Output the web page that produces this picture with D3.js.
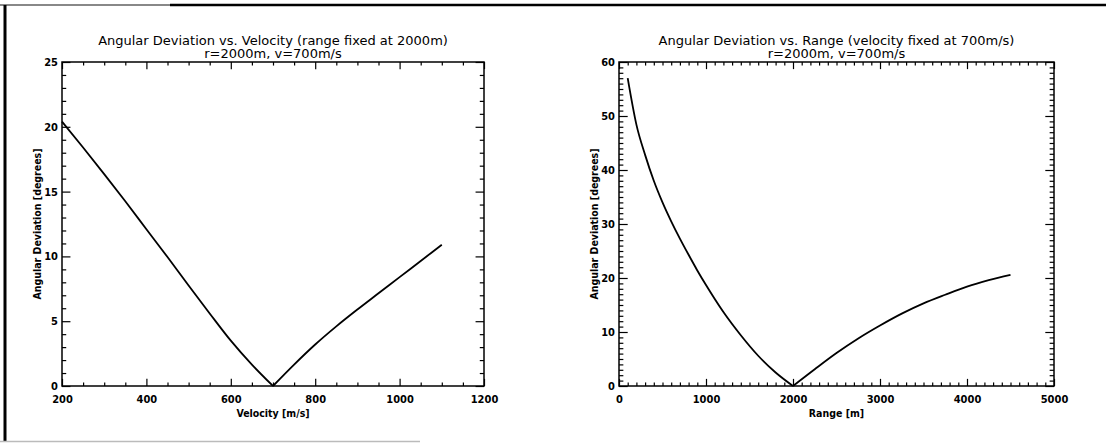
<!DOCTYPE html>
<html>
<head>
<meta charset="utf-8">
<script src="https://cdn.jsdelivr.net/npm/d3@7"></script>
<style>
  body { margin: 0; background: #fff; }
  svg text { font-family: "DejaVu Sans Condensed", "DejaVu Sans", sans-serif; fill: #000; }
</style>
</head>
<body>
<svg id="chart" width="1106" height="444"></svg>
<script>
// Angular deviation as a function of projectile velocity (range held at 2000 m)
const velocity      = [200, 250, 300, 350, 400, 450, 500, 550, 600, 650, 700,
                       750, 800, 850, 900, 950, 1000, 1050, 1100];
const devVsVelocity = [20.4, 18.4, 16.35, 14.25, 12.1, 9.95, 7.75, 5.6, 3.5, 1.65, 0,
                       1.65, 3.2, 4.6, 5.9, 7.15, 8.4, 9.65, 10.9];
const velocityTicks = [200, 400, 600, 800, 1000, 1200];
const velDegTicks   = [0, 5, 10, 15, 20, 25];

// Angular deviation as a function of range (velocity held at 700 m/s)
const range         = [100, 200, 300, 400, 500, 600, 700, 800, 900, 1000, 1200, 1400,
                       1600, 1800, 2000, 2250, 2500, 2750, 3000, 3250, 3500, 3750,
                       4000, 4250, 4500];
const devVsRange    = [57.0, 48.4, 42.8, 38.0, 34.0, 30.5, 27.3, 24.3, 21.4, 18.7, 13.7, 9.4,
                       5.6, 2.5, 0, 3.1, 6.1, 8.8, 11.2, 13.4, 15.3, 16.9,
                       18.4, 19.6, 20.6];
const rangeTicks    = [0, 1000, 2000, 3000, 4000, 5000];
const rangeDegTicks = [0, 10, 20, 30, 40, 50, 60];

const svg = d3.select("#chart");

// outer frame
svg.append("line").attr("x1", 0).attr("x2", 170).attr("y1", 5).attr("y2", 5)
  .attr("stroke", "#888").attr("stroke-width", 2);
svg.append("line").attr("x1", 170).attr("x2", 1106).attr("y1", 5).attr("y2", 5)
  .attr("stroke", "#000").attr("stroke-width", 2.5);
svg.append("line").attr("x1", 5).attr("x2", 5).attr("y1", 5).attr("y2", 442)
  .attr("stroke", "#000").attr("stroke-width", 3);
svg.append("line").attr("x1", 0).attr("x2", 420).attr("y1", 441.5).attr("y2", 441.5)
  .attr("stroke", "#bbb").attr("stroke-width", 1.5);

function minorValues(domain, step, major) {
  return d3.range(domain[0], domain[1] + step / 2, step)
    .filter(v => !major.some(m => Math.abs(m - v) < step / 10));
}

function panel(cfg) {
  const g = svg.append("g");
  const x = d3.scaleLinear().domain(cfg.xDomain).range([cfg.left, cfg.right]);
  const y = d3.scaleLinear().domain(cfg.yDomain).range([cfg.bottom, cfg.top]);
  const w = cfg.right - cfg.left, h = cfg.bottom - cfg.top;
  const xLen = 0.022 * h, yLen = 0.02 * w;

  const xMinor = minorValues(cfg.xDomain, cfg.xMinorStep, cfg.xTicks);
  const yMinor = minorValues(cfg.yDomain, cfg.yMinorStep, cfg.yTicks);

  const style = sel => {
    sel.select(".domain").remove();
    sel.selectAll(".tick line").attr("stroke", "#000").attr("stroke-width", 1.2);
  };

  // bottom axis with labels
  g.append("g").attr("transform", `translate(0,${cfg.bottom})`)
    .call(d3.axisBottom(x).tickValues(cfg.xTicks).tickSize(-xLen).tickPadding(9).tickFormat(d3.format("d")))
    .call(style)
    .selectAll("text").attr("font-size", 11).attr("font-weight", "bold");
  g.append("g").attr("transform", `translate(0,${cfg.bottom})`)
    .call(d3.axisBottom(x).tickValues(xMinor).tickSize(-xLen / 2).tickFormat(""))
    .call(style);
  // top axis, ticks only
  g.append("g").attr("transform", `translate(0,${cfg.top})`)
    .call(d3.axisTop(x).tickValues(cfg.xTicks).tickSize(-xLen).tickFormat(""))
    .call(style);
  g.append("g").attr("transform", `translate(0,${cfg.top})`)
    .call(d3.axisTop(x).tickValues(xMinor).tickSize(-xLen / 2).tickFormat(""))
    .call(style);
  // left axis with labels
  g.append("g").attr("transform", `translate(${cfg.left},0)`)
    .call(d3.axisLeft(y).tickValues(cfg.yTicks).tickSize(-yLen).tickPadding(4).tickFormat(d3.format("d")))
    .call(style)
    .selectAll("text").attr("font-size", 11).attr("font-weight", "bold");
  g.append("g").attr("transform", `translate(${cfg.left},0)`)
    .call(d3.axisLeft(y).tickValues(yMinor).tickSize(-yLen / 2).tickFormat(""))
    .call(style);
  // right axis, ticks only
  g.append("g").attr("transform", `translate(${cfg.right},0)`)
    .call(d3.axisRight(y).tickValues(cfg.yTicks).tickSize(-yLen).tickFormat(""))
    .call(style);
  g.append("g").attr("transform", `translate(${cfg.right},0)`)
    .call(d3.axisRight(y).tickValues(yMinor).tickSize(-yLen / 2).tickFormat(""))
    .call(style);

  // plot box
  g.append("rect").attr("x", cfg.left).attr("y", cfg.top).attr("width", w).attr("height", h)
    .attr("fill", "none").attr("stroke", "#000").attr("stroke-width", 1.5);

  // curve: two branches meeting at the minimum, each drawn smooth
  const pts = cfg.xs.map((v, i) => [v, cfg.ys[i]]);
  const iMin = d3.minIndex(cfg.ys);
  const line = d3.line().x(d => x(d[0])).y(d => y(d[1])).curve(d3.curveMonotoneX);
  [pts.slice(0, iMin + 1), pts.slice(iMin)].forEach(branch => {
    g.append("path").attr("d", line(branch))
      .attr("fill", "none").attr("stroke", "#000").attr("stroke-width", 1.8)
      .attr("stroke-linejoin", "miter");
  });

  // titles
  const cx = (cfg.left + cfg.right) / 2;
  g.append("text").attr("x", cx).attr("y", cfg.top - 17).attr("text-anchor", "middle")
    .attr("font-size", 13).style("font-family", "'DejaVu Sans', sans-serif").text(cfg.title);
  g.append("text").attr("x", cx).attr("y", cfg.top - 4).attr("text-anchor", "middle")
    .attr("font-size", 13).style("font-family", "'DejaVu Sans', sans-serif").text(cfg.subtitle);

  // axis titles
  g.append("text").attr("x", cx).attr("y", cfg.bottom + 31).attr("text-anchor", "middle")
    .attr("font-size", 10.5).attr("font-weight", "bold").text(cfg.xLabel);
  g.append("text")
    .attr("transform", `translate(${cfg.left - 25},${(cfg.top + cfg.bottom) / 2}) rotate(-90)`)
    .attr("text-anchor", "middle").attr("dominant-baseline", "central")
    .attr("font-size", 10.5).attr("font-weight", "bold").text(cfg.yLabel);
}

panel({
  left: 62, right: 484, top: 62, bottom: 386,
  xDomain: [200, 1200], yDomain: [0, 25],
  xTicks: velocityTicks, yTicks: velDegTicks, xMinorStep: 50, yMinorStep: 1,
  xs: velocity, ys: devVsVelocity,
  title: "Angular Deviation vs. Velocity (range fixed at 2000m)",
  subtitle: "r=2000m, v=700m/s",
  xLabel: "Velocity [m/s]", yLabel: "Angular Deviation [degrees]"
});

panel({
  left: 619, right: 1054, top: 62, bottom: 386,
  xDomain: [0, 5000], yDomain: [0, 60],
  xTicks: rangeTicks, yTicks: rangeDegTicks, xMinorStep: 100, yMinorStep: 1,
  xs: range, ys: devVsRange,
  title: "Angular Deviation vs. Range (velocity fixed at 700m/s)",
  subtitle: "r=2000m, v=700m/s",
  xLabel: "Range [m]", yLabel: "Angular Deviation [degrees]"
});
</script>
</body>
</html>
